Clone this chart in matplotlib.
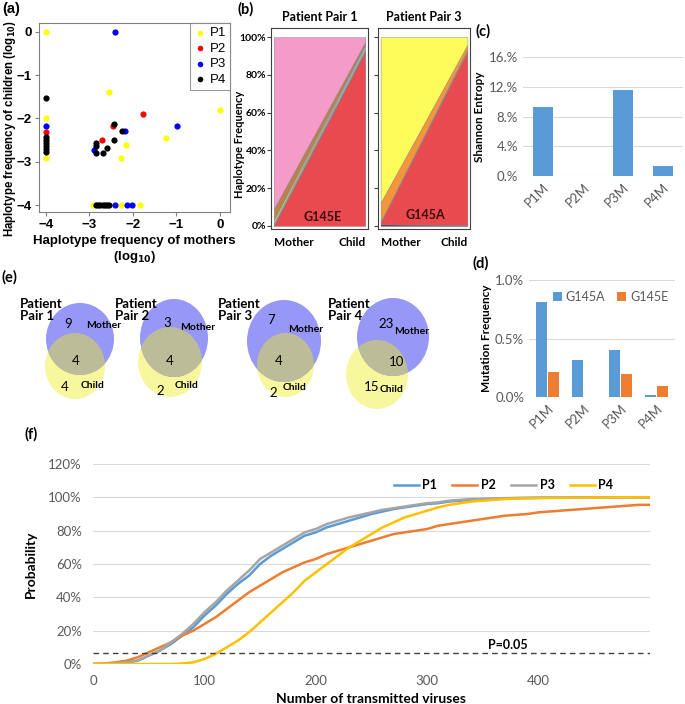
import numpy as np
import matplotlib
matplotlib.use("Agg")
import matplotlib.pyplot as plt
from matplotlib.patches import Ellipse
from matplotlib.ticker import FuncFormatter

# ---------------- DATA ----------------
# (a) scatter: log10 haplotype frequency mother (x) vs child (y)
p1_x = [-4, -2.54, 0.0, -4, -4, -2.17, -2.28, -1.25, -2.92, -2.28, -1.85]
p1_y = [0, -1.39, -1.8, -1.99, -2.92, -2.62, -2.92, -2.45, -4, -4, -4]
p2_x = [-4, -1.77, -2.46, -2.71]
p2_y = [-2.32, -1.9, -2.18, -2.49]
p3_x = [-2.42, -4, -2.18, -0.98, -2.9, -2.42, -2.13, -2.03]
p3_y = [0, -2.17, -2.28, -2.17, -2.74, -4, -4, -4]
p4_x = [-4, -4, -4, -4, -4, -4, -4, -2.44, -2.25, -2.44, -2.85, -2.85, -2.85, -2.6, -2.68,
        -2.86, -2.8, -2.75, -2.7, -2.65, -2.6, -2.55]
p4_y = [-1.52, -2.43, -2.5, -2.57, -2.64, -2.71, -2.78, -2.13, -2.3, -2.51, -2.57, -2.63, -2.8, -2.68, -2.8,
        -4, -4, -4, -4, -4, -4, -4]
scatter_labels = ["P1", "P2", "P3", "P4"]

# (b) stacked haplotype frequencies (Mother, Child)
stack_x_labels = ["Mother", "Child"]
pair1_layers = {  # bottom -> top
    "G145E": [0.0, 0.925],
    "h2": [0.005, 0.005],
    "h3": [0.01, 0.03],
    "h4": [0.015, 0.005],
    "h5": [0.06, 0.01],
    "h6": [0.91, 0.025],
}
pair3_layers = {
    "h1": [0.008, 0.005],
    "G145A": [0.01, 0.92],
    "h3": [0.005, 0.01],
    "h4": [0.10, 0.025],
    "h5": [0.877, 0.04],
}

# (c) Shannon entropy
entropy_cats = ["P1M", "P2M", "P3M", "P4M"]
entropy_vals = [0.0927, 0.0, 0.1156, 0.013]

# (d) mutation frequency
mut_cats = ["P1M", "P2M", "P3M", "P4M"]
g145a = [0.0081, 0.0032, 0.0040, 0.00017]
g145e = [0.0021, 0.0, 0.0020, 0.00095]

# (e) Venn counts
venn_titles = ["Patient\nPair 1", "Patient\nPair 2", "Patient\nPair 3", "Patient\nPair 4"]
mother_only = [9, 3, 7, 23]
shared = [4, 4, 4, 10]
child_only = [4, 2, 2, 15]

# (f) probability curves, sampled every 10 viruses from 0 to 500
step = 10
prob_p1 = [0, 0, 0.5, 1, 2, 5, 8, 12, 17, 22, 29, 35, 42, 48, 53, 60, 65, 69, 73, 77, 79,
           82, 84, 86, 88, 90, 91.5, 93, 94, 95, 96, 96.5, 97.5, 98, 98.5, 99, 99, 99.3, 99.5, 99.6, 99.7,
           99.8, 99.8, 99.9, 99.9, 99.9, 100, 100, 100, 100, 100]
prob_p2 = [0, 0.3, 1, 2, 4, 7, 10, 13, 17, 20, 24, 28, 33, 38, 43, 47, 51, 55, 58, 61, 63,
           66, 68, 70, 72, 74, 76, 78, 79, 80, 81, 83, 84, 85, 86, 87, 88, 89, 89.5, 90, 91,
           91.5, 92, 92.5, 93, 93.5, 94, 94.5, 95, 95.5, 95.5]
prob_p3 = [0, 0, 0.5, 1, 2, 5, 8, 13, 18, 24, 31, 37, 44, 50, 56, 63, 67, 71, 75, 79, 81,
           84, 86, 88, 89.5, 91, 92.5, 93.5, 94.5, 95.5, 96.5, 97, 98, 98.5, 99, 99, 99.3, 99.5, 99.6, 99.7, 99.8,
           99.8, 99.8, 99.9, 99.9, 99.9, 100, 100, 100, 100, 100]
prob_p4 = [0, 0, 0, 0, 0, 0, 0, 0, 0.3, 1, 3, 6, 10, 14, 19, 25, 31, 37, 43, 50, 55,
           60, 65, 70, 74, 78, 82, 85, 88, 90, 92, 94, 95.5, 96.5, 97.5, 98, 98.5, 99, 99.2, 99.4, 99.5,
           99.6, 99.7, 99.8, 99.8, 99.9, 99.9, 100, 100, 100, 100]
p_threshold = 0.065

# ---------------- FIGURE ----------------
W, H = 685, 704
fig = plt.figure(figsize=(W / 100, H / 100), dpi=100)

def box(l, t, r, b):
    return [l / W, 1 - b / H, (r - l) / W, (b - t) / H]

EX = "Lato"
AR = "Liberation Sans"
GRID = "#d9d9d9"
TXT = "#595959"

# ---- (a) ----
axa = fig.add_axes(box(39, 23, 230, 212))
cols = ["#ffff00", "#ff0000", "#0000ff", "#000000"]
for xs, ys, c, lab in zip([p1_x, p2_x, p3_x, p4_x], [p1_y, p2_y, p3_y, p4_y], cols, scatter_labels):
    axa.scatter(xs, ys, s=20, color=c, label=lab, linewidths=0, zorder=3)
axa.set_xlim(-4.16, 0.23)
axa.set_ylim(-4.16, 0.2)
axa.set_xticks([-4, -3, -2, -1, 0])
axa.set_yticks([0, -1, -2, -3, -4])
for sp in axa.spines.values():
    sp.set_color("#808080")
axa.tick_params(length=3, color="#808080", labelsize=9.5, pad=2)
for t in axa.get_xticklabels() + axa.get_yticklabels():
    t.set_fontweight("bold"); t.set_family(AR)
axa.set_xlabel("Haplotype frequency of mothers\n(log$_{\\mathbf{10}}$)", fontsize=9.5,
               fontweight="bold", family=AR, labelpad=3)
axa.set_ylabel("Haplotype frequency of children (log$_{\\mathbf{10}}$)", fontsize=8.3,
               fontweight="bold", family=AR)
axa.yaxis.set_label_coords(-0.11, 0.44)
leg = axa.legend(loc="upper right", prop={"family": AR, "size": 9.5}, handletextpad=0.2,
                 borderpad=0.3, labelspacing=0.25, handlelength=1.0, markerscale=0.9,
                 fancybox=False, edgecolor="#808080", borderaxespad=0.0)
leg.get_frame().set_linewidth(0.8)
fig.text(2 / W, 1 - 9 / H, "(a)", fontsize=10.5, fontweight="bold", family=AR, va="center")

# ---- (b) ----
def stack_panel(ax, layers, colors, label, lx, ly, show_y):
    xs = [0, 1]
    vals = [layers[k] for k in layers]
    ax.stackplot(xs, *vals, colors=colors, linewidth=0.3, edgecolor="#808080")
    ax.set_xlim(-0.03, 1.03)
    ax.set_ylim(-0.016, 1.048)
    ax.set_yticks([0, 0.2, 0.4, 0.6, 0.8, 1.0])
    ax.set_xticks(xs)
    ax.set_xticklabels(stack_x_labels, fontsize=8.5, fontweight="bold", family=EX)
    ax.get_xticklabels()[0].set_ha("left")
    ax.get_xticklabels()[1].set_ha("right")
    ax.tick_params(axis="x", length=0, pad=6)
    ax.tick_params(axis="y", length=3, color="#404040", pad=0.5)
    if show_y:
        ax.yaxis.set_major_formatter(FuncFormatter(lambda v, p: f"{v*100:.0f}%"))
        for t in ax.get_yticklabels():
            t.set_fontsize(7.5); t.set_fontweight("bold"); t.set_family(EX)
        ax.set_ylabel("Haplotype Frequency", fontsize=8, fontweight="bold", family=EX)
        ax.yaxis.set_label_coords(-0.27, 0.42)
    else:
        ax.set_yticklabels([])
    for sp in ax.spines.values():
        sp.set_color("#404040"); sp.set_linewidth(0.8)
    ax.text(lx, ly, label, fontsize=9, fontweight="bold", family=EX, color="#3d0c0c",
            ha="center", va="center")

axb1 = fig.add_axes(box(271, 28, 368, 229))
stack_panel(axb1, pair1_layers, ["#e84a4f", "#505050", "#a6a6a6", "#ffe060", "#b8824e", "#f59bc9"],
            "G145E", 0.53, 0.05, True)
axb1.set_title("Patient Pair 1", fontsize=9, fontweight="bold", family=EX, pad=5)
axb2 = fig.add_axes(box(378, 28, 470, 229))
stack_panel(axb2, pair3_layers, ["#1f3864", "#e84a4f", "#8c8c8c", "#f7943c", "#fcfc5a"],
            "G145A", 0.52, 0.06, False)
axb2.set_title("Patient Pair 3", fontsize=9, fontweight="bold", family=EX, pad=5)
fig.text(238 / W, 1 - 9 / H, "(b)", fontsize=10.5, fontweight="bold", family=EX, va="center")

# ---- (c) ----
def excel_style(ax, size=9.5):
    for sp in ax.spines.values():
        sp.set_visible(False)
    ax.yaxis.grid(True, color=GRID, linewidth=0.8)
    ax.set_axisbelow(True)
    ax.tick_params(length=0, labelcolor=TXT, labelsize=size)

axc = fig.add_axes(box(523, 57, 683, 176))
xc = np.arange(len(entropy_cats))
axc.bar(xc, entropy_vals, width=0.5, color="#5b9bd5")
axc.set_xlim(-0.5, len(entropy_cats) - 0.5)
axc.set_ylim(0, 0.16)
axc.set_yticks([0, 0.04, 0.08, 0.12, 0.16])
axc.set_yticklabels(["0.%", "4.%", "8.%", "12.%", "16.%"])
axc.set_xticks(xc)
axc.set_xticklabels(entropy_cats, rotation=45, ha="right", rotation_mode="anchor")
excel_style(axc)
for t in axc.get_xticklabels() + axc.get_yticklabels():
    t.set_family(EX)
axc.set_ylabel("Shannon Entropy", fontsize=8.5, fontweight="bold", family=EX, labelpad=3)
fig.text(475 / W, 1 - 31 / H, "(c)", fontsize=10.5, fontweight="bold", family=EX, va="center")

# ---- (d) ----
axd = fig.add_axes(box(529, 280, 675, 397))
xd = np.arange(len(mut_cats))
bw = 0.3
axd.bar(xd - bw / 2 - 0.02, g145a, width=bw, color="#5b9bd5", label="G145A")
axd.bar(xd + bw / 2 + 0.02, g145e, width=bw, color="#ed7d31", label="G145E")
axd.set_xlim(-0.5, len(mut_cats) - 0.5)
axd.set_ylim(0, 0.01)
axd.set_yticks([0, 0.005, 0.01])
axd.set_yticklabels(["0.0%", "0.5%", "1.0%"])
axd.set_xticks(xd)
axd.set_xticklabels(mut_cats, rotation=45, ha="right", rotation_mode="anchor")
excel_style(axd)
for t in axd.get_xticklabels() + axd.get_yticklabels():
    t.set_family(EX)
axd.set_ylabel("Mutation Frequency", fontsize=8.5, fontweight="bold", family=EX, labelpad=2)
axd.legend(loc="center right", bbox_to_anchor=(1.03, 0.855), ncol=2, frameon=False,
           prop={"family": EX, "size": 9}, handlelength=0.7, handleheight=0.7,
           handletextpad=0.3, columnspacing=1.0, labelcolor=TXT)
fig.text(473 / W, 1 - 263 / H, "(d)", fontsize=10.5, fontweight="bold", family=EX, va="center")

# ---- (e) Venn ----
axe = fig.add_axes([0, 1 - 420 / H, 470 / W, 140 / H])
axe.set_xlim(0, 470)
axe.set_ylim(420, 280)
axe.axis("off")
geo = [  # mother (cx, cy, w, h), child (cx, cy, w, h), title x
    ((80, 339, 68, 72), (75, 366, 60, 66), 20),
    ((174, 338, 68, 78), (170, 362, 64, 70), 115),
    ((284, 341, 74, 82), (285.5, 365, 57, 64), 218),
    ((393, 337, 72, 78), (377, 374.5, 62, 69), 328),
]
txtpos = [  # mother-only, shared, child-only, "Mother", "Child"
    ((68, 324), (76, 361), (65, 387), (86, 326), (81, 385)),
    ((167, 323), (170, 361), (160, 391), (180, 327), (175, 386)),
    ((271, 320), (279, 361), (273, 393), (288, 329), (283, 388)),
    ((386, 324), (397, 362), (372, 387), (394, 332), (380, 390)),
]
for i in range(4):
    (mcx, mcy, mw, mh), (ccx, ccy, cw, ch), tx = geo[i]
    child = Ellipse((ccx, ccy), cw, ch, facecolor="#f7f79e", edgecolor="none", zorder=1)
    mother = Ellipse((mcx, mcy), mw, mh, facecolor="#9797f7", edgecolor="none", zorder=2)
    axe.add_patch(child)
    axe.add_patch(mother)
    inter = Ellipse((ccx, ccy), cw, ch, facecolor="#bcbc98", edgecolor="none", zorder=3)
    axe.add_patch(inter)
    inter.set_clip_path(mother)
    axe.text(tx, 298, venn_titles[i], fontsize=9.5, fontweight="bold", family=EX,
             va="top", ha="left", linespacing=1.0, zorder=5)
    (a1, a2, a3, a4, a5) = txtpos[i]
    axe.text(*a1, str(mother_only[i]), fontsize=9.5, family=EX, ha="center", va="center", zorder=5)
    axe.text(*a2, str(shared[i]), fontsize=9.5, family=EX, ha="center", va="center", zorder=5)
    axe.text(*a3, str(child_only[i]), fontsize=9.5, family=EX, ha="center", va="center", zorder=5)
    axe.text(*a4, "Mother", fontsize=7.5, fontweight="bold", family=EX, ha="left", va="center", zorder=5)
    axe.text(*a5, "Child", fontsize=7.5, fontweight="bold", family=EX, ha="left", va="center", zorder=5)
fig.text(2 / W, 1 - 277 / H, "(e)", fontsize=10.5, fontweight="bold", family=EX, va="center")

# ---- (f) ----
axf = fig.add_axes(box(93, 464, 650, 664))
series = [prob_p1, prob_p2, prob_p3, prob_p4]
fcols = ["#5b9bd5", "#ed7d31", "#a5a5a5", "#ffc000"]
for vals, c, lab in zip(series, fcols, scatter_labels):
    xs = np.arange(len(vals)) * step
    axf.plot(xs, np.array(vals) / 100, color=c, lw=1.8, label=lab)
axf.axhline(p_threshold, color="#404040", lw=1, ls=(0, (4, 3)))
axf.text(0.71, p_threshold + 0.012, "P=0.05", transform=axf.get_yaxis_transform(),
         fontsize=9, fontweight="bold", family=EX, va="bottom", ha="left")
axf.set_xlim(0, 500)
axf.set_ylim(0, 1.2)
axf.set_yticks(np.arange(0, 1.21, 0.2))
axf.yaxis.set_major_formatter(FuncFormatter(lambda v, p: f"{v*100:.0f}%"))
axf.set_xticks([0, 100, 200, 300, 400])
excel_style(axf)
for t in axf.get_xticklabels() + axf.get_yticklabels():
    t.set_family(EX)
axf.tick_params(axis="y", pad=8)
axf.tick_params(axis="x", pad=8)
axf.set_xlabel("Number of transmitted viruses", fontsize=10, fontweight="bold", family=EX, labelpad=4)
axf.set_ylabel("Probability", fontsize=10, fontweight="bold", family=EX, labelpad=8)
axf.legend(loc="center", bbox_to_anchor=(0.737, 0.895), ncol=4, frameon=False,
           prop={"family": EX, "size": 9, "weight": "bold"}, handlelength=2.0,
           handletextpad=0.3, columnspacing=1.2)
fig.text(25 / W, 1 - 434 / H, "(f)", fontsize=10.5, fontweight="bold", family=EX, va="center")

fig.savefig("out.png", dpi=100)
